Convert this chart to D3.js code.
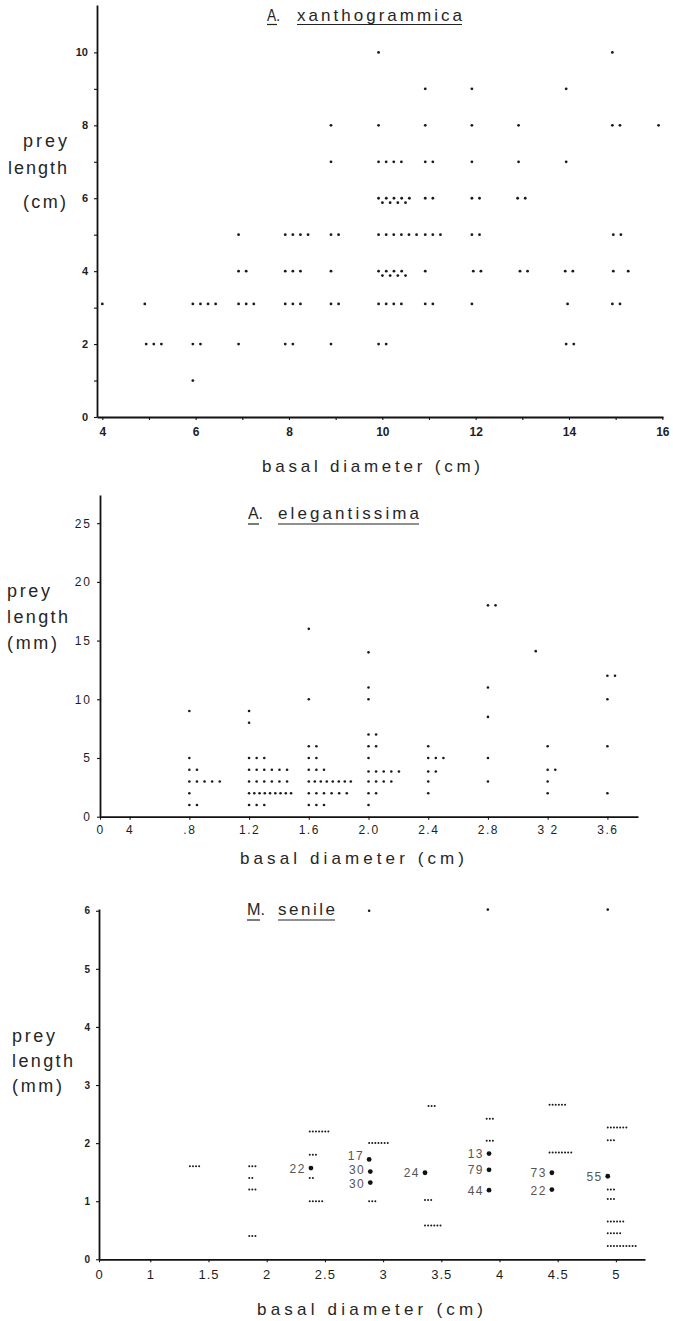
<!DOCTYPE html>
<html>
<head>
<meta charset="utf-8">
<script src="https://cdn.jsdelivr.net/npm/d3@7"></script>
<style>
  body { margin: 0; background: #fff; }
  svg { display: block; font-family: "Liberation Sans", Arial, sans-serif; }
  .axis path { stroke: #111; stroke-width: 1.8; }
  .axis line { stroke: #111; stroke-width: 1.1; }
  .axis text { fill: #1e1e1e; }
  .lbl { fill: #262626; }
  .dot { fill: #1a1a1a; }
  .mean { fill: #111; }
  .mean-lbl { fill: #555; font-size: 12px; letter-spacing: 1.5px; }
</style>
</head>
<body>
<div id="chart"></div>
<script>

// A. xanthogrammica: [basal diameter (cm), prey length (cm), number of prey]
const xanthoPrey = [
  [4.0, 3.1, 1], [4.91, 3.1, 1], [4.94, 2, 3],
  [5.94, 3.1, 4], [5.94, 2, 2], [5.94, 1, 1],
  [6.92, 5, 1], [6.92, 4, 2], [6.92, 3.1, 3], [6.92, 2, 1],
  [7.92, 5, 4], [7.92, 4, 3], [7.92, 3.1, 3], [7.92, 2, 2],
  [8.9, 8, 1], [8.9, 7, 1], [8.9, 5, 2], [8.9, 4, 1], [8.9, 3.1, 2], [8.9, 2, 1],
  [9.92, 10, 1], [9.92, 8, 1], [9.92, 7, 4], [9.92, 6, 9], [9.92, 5, 6], [9.92, 4, 8], [9.92, 3.1, 4], [9.92, 2, 2],
  [10.92, 9, 1], [10.92, 8, 1], [10.92, 7, 2], [10.92, 6, 2], [10.92, 5, 3], [10.92, 4, 1], [10.92, 3.1, 2],
  [11.92, 9, 1], [11.92, 8, 1], [11.92, 7, 1], [11.92, 6, 2], [11.92, 5, 2], [11.95, 4, 2], [11.92, 3.1, 1],
  [12.92, 8, 1], [12.92, 7, 1], [12.9, 6, 2], [12.95, 4, 2],
  [13.94, 9, 1], [13.94, 7, 1], [13.92, 4, 2], [13.97, 3.1, 1], [13.94, 2, 2],
  [14.93, 10, 1], [14.93, 8, 2], [14.95, 5, 2], [14.95, 4, 1], [15.27, 4, 1], [14.93, 3.1, 2],
  [15.92, 8, 1]
];
const xanthoXTicks = [4, 5, 6, 7, 8, 9, 10, 11, 12, 13, 14, 15, 16];
const xanthoXLabels = ["4", "", "6", "", "8", "", "10", "", "12", "", "14", "", "16"];
const xanthoYTicks = [0, 1, 2, 3, 4, 5, 6, 7, 8, 9, 10];
const xanthoYLabels = ["0", "", "2", "", "4", "", "6", "", "8", "", "10"];

// A. elegantissima: [basal diameter (cm), prey length (mm), number of prey]
const elegPrey = [
  [0.8, 9, 1], [0.8, 5, 1], [0.8, 4, 2], [0.8, 3, 5], [0.8, 2, 1], [0.8, 1, 2],
  [1.2, 9, 1], [1.2, 8, 1], [1.2, 5, 3], [1.2, 4, 6], [1.2, 3, 6], [1.2, 2, 9], [1.2, 1, 3],
  [1.6, 16, 1], [1.6, 10, 1], [1.6, 6, 2], [1.6, 5, 2], [1.6, 4, 3], [1.6, 3, 8], [1.6, 2, 6], [1.6, 1, 3],
  [2.0, 14, 1], [2.0, 11, 1], [2.0, 10, 1], [2.0, 7, 2], [2.0, 6, 2], [2.0, 5, 1], [2.0, 3.85, 5], [2.0, 3, 4], [2.0, 2, 2], [2.0, 1, 1],
  [2.4, 6, 1], [2.4, 5, 3], [2.4, 3.85, 2], [2.4, 3, 1], [2.4, 2, 1],
  [2.8, 18, 2], [2.8, 11, 1], [2.8, 8.5, 1], [2.8, 5, 1], [2.8, 3, 1],
  [3.12, 14.1, 1],
  [3.2, 6, 1], [3.2, 4, 2], [3.2, 3, 1], [3.2, 2, 1],
  [3.6, 12, 2], [3.6, 10, 1], [3.6, 6, 1], [3.6, 2, 1]
];
const elegXTicks = [0.4, 0.8, 1.2, 1.6, 2.0, 2.4, 2.8, 3.2, 3.6];
const elegXLabels = ["0", "4", ".8", "1.2", "1.6", "2.0", "2.4", "2.8", "3 2", "3.6"];
const elegYTicks = [0, 5, 10, 15, 20, 25];
const elegYLabels = ["0", "5", "10", "15", "20", "25"];

// M. senile: [basal diameter (cm), prey length (mm), number of prey]
const senilePrey = [
  [1.34, 1.6, 4],
  [1.85, 1.6, 3], [1.85, 1.4, 2], [1.85, 1.2, 3], [1.85, 0.4, 3],
  [2.37, 2.2, 7], [2.37, 1.8, 3], [2.37, 1.4, 2], [2.37, 1.0, 5],
  [2.88, 6.0, 1], [2.88, 2.0, 7], [2.88, 1.0, 3],
  [3.39, 2.64, 3], [3.36, 1.02, 3], [3.36, 0.58, 6],
  [3.9, 6.02, 1], [3.89, 2.42, 3], [3.89, 2.04, 3],
  [4.43, 2.66, 6], [4.43, 1.84, 8],
  [4.93, 6.02, 1], [4.93, 2.27, 7], [4.93, 2.05, 3], [4.93, 1.2, 3], [4.93, 1.04, 3],
  [4.93, 0.65, 6], [4.93, 0.45, 5], [4.93, 0.23, 10]
];
// M. senile means: [basal diameter (cm), mean prey length (mm), n]
const senileMeans = [
  [2.38, 1.57, 22], [2.88, 1.72, 17], [2.89, 1.51, 30], [2.89, 1.32, 30],
  [3.36, 1.49, 24], [3.91, 1.82, 13], [3.91, 1.54, 79], [3.91, 1.19, 44],
  [4.45, 1.49, 73], [4.45, 1.2, 22], [4.93, 1.43, 55]
];
const senileXTicks = [1, 1.5, 2, 2.5, 3, 3.5, 4, 4.5, 5];
const senileXLabels = ["0", "1", "1.5", "2", "2.5", "3", "3.5", "4", "4.5", "5"];
const senileYTicks = [0, 1, 2, 3, 4, 5, 6];
const senileYLabels = ["0", "1", "2", "3", "4", "5", "6"];


class PreyPanel {

  constructor(_config) {
    this.config = _config;
    this.initVis();
    this.updateVis();
  }

  initVis() {
    let vis = this;
    let c = vis.config;

    vis.g = c.svg.append("g");

    vis.xScale = d3.scaleLinear().domain(c.xDomain).range(c.xRange);
    vis.yScale = d3.scaleLinear().domain(c.yDomain).range(c.yRange);

    let xVals = c.xOrigin ? [c.xDomain[0]].concat(c.xTicks) : c.xTicks;

    vis.xAxis = d3.axisBottom(vis.xScale)
        .tickValues(xVals)
        .tickFormat((d, i) => c.xLabels[i])
        .tickSize(3).tickSizeOuter(0)
        .tickPadding(c.xTickFont.pad);

    vis.yAxis = d3.axisLeft(vis.yScale)
        .tickValues(c.yTicks)
        .tickFormat((d, i) => c.yLabels[i])
        .tickSize(3).tickSizeOuter(0)
        .tickPadding(c.yTickFont.pad);

    vis.g.append("g")
        .attr("class", "axis")
        .attr("transform", "translate(0," + c.yRange[0] + ")")
        .call(vis.xAxis)
      .selectAll("text")
        .style("font-size", c.xTickFont.size + "px")
        .style("font-weight", c.xTickFont.weight)
        .style("letter-spacing", c.xTickFont.spacing + "px");

    vis.g.append("g")
        .attr("class", "axis")
        .attr("transform", "translate(" + c.xRange[0] + ",0)")
        .call(vis.yAxis)
      .selectAll("text")
        .style("font-size", c.yTickFont.size + "px")
        .style("font-weight", c.yTickFont.weight)
        .style("letter-spacing", c.yTickFont.spacing + "px");

    vis.g.selectAll(".axis").attr("font-family", null);

    // title with underlines
    let t = c.title;
    vis.g.append("text").attr("class", "lbl")
        .attr("x", t.x).attr("y", t.y)
        .style("font-size", "17px")
        .attr("textLength", t.genusW).attr("lengthAdjust", "spacingAndGlyphs")
        .text(t.genus);
    vis.g.append("text").attr("class", "lbl")
        .attr("x", t.speciesX).attr("y", t.y)
        .style("font-size", "17px")
        .attr("textLength", t.speciesW).attr("lengthAdjust", "spacing")
        .text(t.species);
    vis.g.append("line")
        .attr("x1", t.x).attr("x2", t.x + t.genusLine)
        .attr("y1", t.y + t.lineDy).attr("y2", t.y + t.lineDy)
        .attr("stroke", "#222").attr("stroke-width", 1.2);
    vis.g.append("line")
        .attr("x1", t.speciesX).attr("x2", t.speciesX + t.speciesW)
        .attr("y1", t.y + t.lineDy).attr("y2", t.y + t.lineDy)
        .attr("stroke", "#222").attr("stroke-width", 1.2);

    // y axis title, three lines
    vis.g.selectAll(".ylbl")
      .data(c.yTitle)
      .join("text")
        .attr("class", "lbl ylbl")
        .attr("x", d => d.x).attr("y", d => d.y)
        .style("font-size", "18px")
        .attr("textLength", d => d.w).attr("lengthAdjust", "spacing")
        .text(d => d.text);

    // x axis title
    vis.g.append("text").attr("class", "lbl")
        .attr("x", c.xTitle.x).attr("y", c.xTitle.y)
        .style("font-size", "17px")
        .attr("textLength", c.xTitle.w).attr("lengthAdjust", "spacing")
        .text("basal  diameter  (cm)");
  }

  updateVis() {
    let vis = this;
    let c = vis.config;

    // one dot per prey item, side by side within each group
    vis.dots = [];
    c.data.forEach(([d, len, n]) => {
      for (let i = 0; i < n; i++) vis.dots.push({ d: d, len: len, i: i, n: n });
    });

    vis.g.selectAll(".dot")
      .data(vis.dots)
      .join("circle")
        .attr("class", "dot")
        .attr("cx", p => vis.xScale(p.d) + c.spread(p.i, p.n)[0])
        .attr("cy", p => vis.yScale(p.len) + c.spread(p.i, p.n)[1])
        .attr("r", p => c.radius(p.n));

    if (!c.means) return;

    vis.g.selectAll(".mean")
      .data(c.means)
      .join("circle")
        .attr("class", "mean")
        .attr("cx", d => vis.xScale(d[0]))
        .attr("cy", d => vis.yScale(d[1]))
        .attr("r", 2.4);

    // label baselines: stacked labels in one column are pushed apart upward
    let labels = c.means.map(d => ({
      x: vis.xScale(d[0]), dotY: vis.yScale(d[1]), n: d[2]
    }));
    let columns = d3.groups(labels, l => Math.round(l.x / 10));
    columns.forEach(([key, col]) => {
      col.sort((a, b) => b.dotY - a.dotY);
      col.forEach((l, i) => {
        l.y = i === 0 ? l.dotY + (col.length > 1 ? 5 : 4.5)
                      : Math.min(l.dotY + 4, col[i - 1].y - 14);
      });
    });

    vis.g.selectAll(".mean-lbl")
      .data(labels)
      .join("text")
        .attr("class", "mean-lbl")
        .attr("text-anchor", "end")
        .attr("x", l => l.x - 5)
        .attr("y", l => l.y)
        .text(l => l.n);
  }
}

const svg = d3.select("#chart").append("svg")
    .attr("width", 673)
    .attr("height", 1321);

new PreyPanel({
  svg: svg,
  data: xanthoPrey,
  xDomain: [3.886, 16.015], xRange: [97, 663],
  yDomain: [0, 11.3], yRange: [417, 5],
  xTicks: xanthoXTicks, xLabels: xanthoXLabels, xOrigin: false,
  yTicks: xanthoYTicks, yLabels: xanthoYLabels,
  xTickFont: { size: 12, weight: "bold", spacing: 0, pad: 7 },
  yTickFont: { size: 11, weight: "bold", spacing: 0, pad: 6 },
  title: { genus: "A.", species: "xanthogrammica", x: 267, y: 21, genusW: 13, genusLine: 10,
           speciesX: 297, speciesW: 165, lineDy: 3.5 },
  yTitle: [
    { text: "prey", x: 23, y: 147, w: 44 },
    { text: "length", x: 8, y: 174, w: 59 },
    { text: "(cm)", x: 23, y: 208, w: 43 }
  ],
  xTitle: { x: 262, y: 472, w: 218 },
  spread: (i, n) => n >= 8 ? [i * 3.85, (i % 2) * 4.4] : [i * 7.6, 0],
  radius: n => 1.4
});

new PreyPanel({
  svg: svg,
  data: elegPrey,
  xDomain: [0.2016, 3.805], xRange: [100, 638],
  yDomain: [0, 27.4], yRange: [816.7, 495],
  xTicks: elegXTicks, xLabels: elegXLabels, xOrigin: true,
  yTicks: elegYTicks, yLabels: elegYLabels,
  xTickFont: { size: 12, weight: "normal", spacing: 1.5, pad: 6 },
  yTickFont: { size: 12, weight: "normal", spacing: 2, pad: 5 },
  title: { genus: "A.", species: "elegantissima", x: 248, y: 519, genusW: 15, genusLine: 11,
           speciesX: 278, speciesW: 141, lineDy: 5 },
  yTitle: [
    { text: "prey", x: 7, y: 597, w: 43 },
    { text: "length", x: 7, y: 623, w: 61 },
    { text: "(mm)", x: 7, y: 649, w: 50 }
  ],
  xTitle: { x: 240, y: 864, w: 224 },
  spread: (i, n) => [i * Math.min(7.6, 42 / Math.max(n - 1, 1)), 0],
  radius: n => 1.3
});

new PreyPanel({
  svg: svg,
  data: senilePrey,
  means: senileMeans,
  xDomain: [0.5593, 5.25], xRange: [99, 645],
  yDomain: [0, 6.03], yRange: [1259.3, 909],
  xTicks: senileXTicks, xLabels: senileXLabels, xOrigin: true,
  yTicks: senileYTicks, yLabels: senileYLabels,
  xTickFont: { size: 13, weight: "normal", spacing: 1, pad: 7 },
  yTickFont: { size: 10, weight: "bold", spacing: 0, pad: 6 },
  title: { genus: "M.", species: "senile", x: 247, y: 915, genusW: 18, genusLine: 13,
           speciesX: 278, speciesW: 57, lineDy: 5 },
  yTitle: [
    { text: "prey", x: 12, y: 1042, w: 43 },
    { text: "length", x: 12, y: 1067, w: 61 },
    { text: "(mm)", x: 12, y: 1092, w: 50 }
  ],
  xTitle: { x: 257, y: 1315, w: 226 },
  spread: (i, n) => [i * 3.1, 0],
  radius: n => n === 1 ? 1.3 : 1.0
});

</script>
</body>
</html>
